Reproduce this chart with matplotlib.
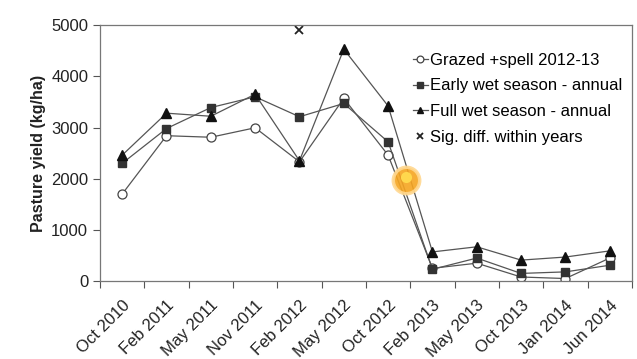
import matplotlib
matplotlib.use('Agg')
import matplotlib.pyplot as plt
import numpy as np

plt.rcParams['font.family'] = ['Liberation Sans', 'DejaVu Sans']

dates = ['Oct 2010', 'Feb 2011', 'May 2011', 'Nov 2011', 'Feb 2012', 'May 2012',
         'Oct 2012', 'Feb 2013', 'May 2013', 'Oct 2013', 'Jan 2014', 'Jun 2014']
grazed_spell = [1700, 2840, 2810, 2995, 2330, 3570, 2460, 250, 350, 80, 50, 450]
early_wet = [2300, 2980, 3390, 3600, 3210, 3470, 2720, 230, 450, 150, 180, 310]
full_wet = [2460, 3280, 3220, 3650, 2350, 4530, 3420, 570, 670, 410, 470, 590]
sig_idx = [4]
sig_y = [4900]

x = np.arange(len(dates))
line_col = '#555555'
text_col = '#222222'

fig = plt.figure(figsize=(6.37, 3.59), dpi=100)
ax = fig.add_axes([0.157, 0.217, 0.835, 0.713])

ax.plot(x, grazed_spell, color=line_col, lw=0.9, marker='o', ms=6.5,
        mfc='white', mec='#444444', mew=0.9, label='Grazed +spell 2012-13')
ax.plot(x, early_wet, color=line_col, lw=0.9, marker='s', ms=6,
        mfc='#333333', mec='#333333', label='Early wet season - annual')
ax.plot(x, full_wet, color=line_col, lw=0.9, marker='^', ms=6.5,
        mfc='#111111', mec='#111111', label='Full wet season - annual')
ax.plot(sig_idx, sig_y, ls='none', marker='x', ms=6, mew=1.3,
        color='#222222', label='Sig. diff. within years')

# orange highlight blob sitting on the Oct 2012 -> Feb 2013 drop
ax.plot([6.4], [1980], marker='o', ms=19, mfc='#f6a521', mec='#ffd890',
        mew=2.5, alpha=0.9, zorder=5)
ax.plot([6.4], [2030], marker='o', ms=8, mfc='#ffd84d', mec='none', zorder=6)

ax.set_xlim(-0.5, len(dates) - 0.5)
ax.set_ylim(0, 5000)
ax.set_yticks(range(0, 5001, 1000))
ax.set_xticks(np.arange(-0.5, len(dates), 1.0))
ax.set_xticklabels([])
ax.set_xticks(x, minor=True)
ax.set_xticklabels(dates, minor=True, rotation=45, ha='right', va='top',
                   rotation_mode='anchor', fontsize=12, color=text_col)
ax.tick_params(axis='x', which='minor', length=0, pad=12)
ax.tick_params(axis='x', which='major', length=5, color='#555555', direction='out')
ax.tick_params(axis='y', length=5, color='#555555', labelsize=12, labelcolor=text_col)

for s in ax.spines.values():
    s.set_color('#777777')
    s.set_linewidth(0.9)

ax.set_ylabel('Pasture yield (kg/ha)', fontsize=11.5, fontweight='bold', color=text_col)

ax.legend(loc='upper left', frameon=False, fontsize=12, handlelength=0.9,
          handletextpad=0.15, labelspacing=0.65, borderpad=0, markerscale=0.75,
          bbox_to_anchor=(0.572, 0.925))

fig.savefig('out.png', dpi=100, facecolor='white')
